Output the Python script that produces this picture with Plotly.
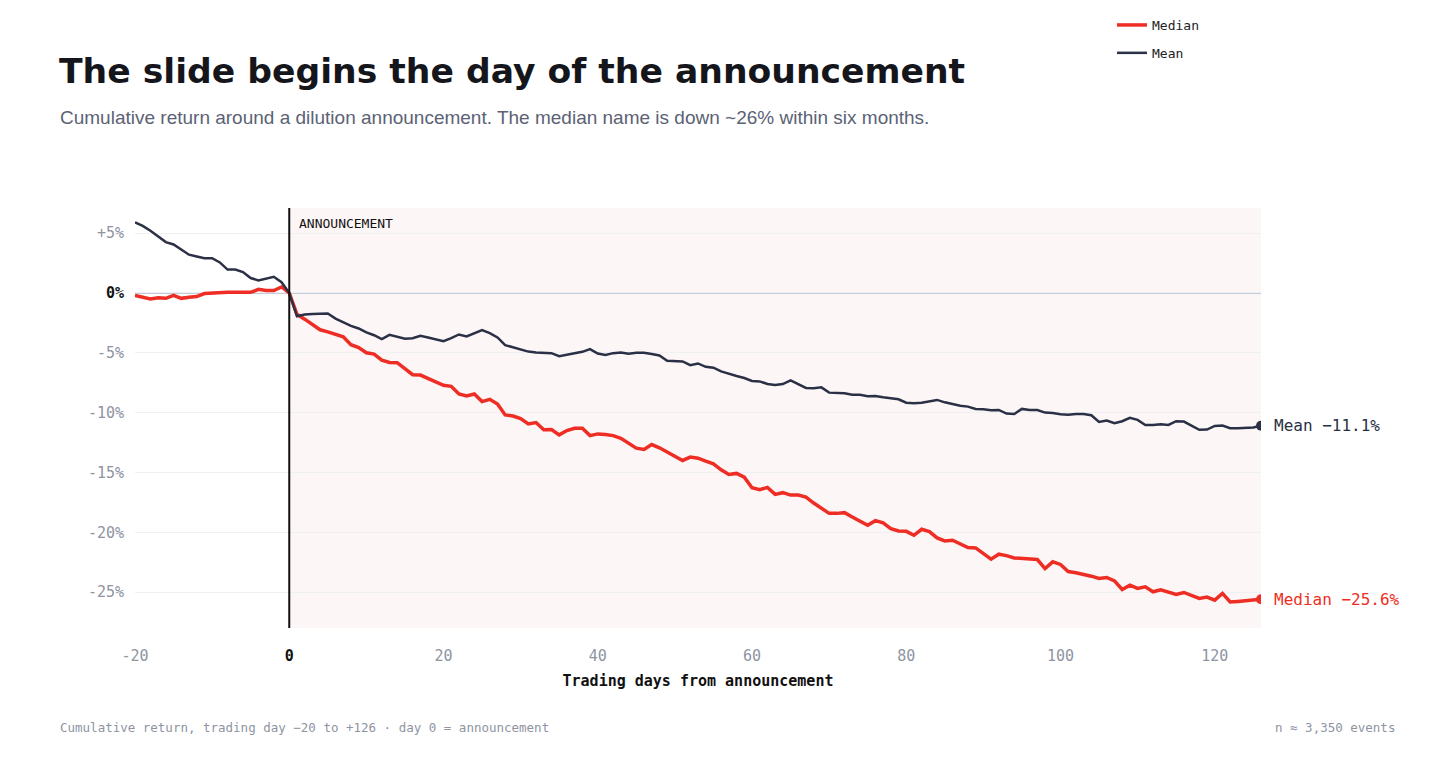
import plotly.graph_objects as go

days = list(range(-20, 127))

median = [
    -0.2, -0.35, -0.5, -0.4, -0.45, -0.2, -0.45, -0.35, -0.3, -0.05, 0.0, 0.05, 0.05, 0.05, 0.05, 0.05, 0.3, 0.2, 0.2, 0.5, 0.0,
    -1.78, -2.19, -2.6, -3.08, -3.25, -3.44, -3.67, -4.33, -4.56, -5.0, -5.11, -5.61, -5.81, -5.83, -6.36, -6.83, -6.86, -7.14, -7.39, -7.72, -7.8, -8.44, -8.6, -8.44, -9.08, -8.89, -9.28, -10.19, -10.28, -10.5, -10.94,
    -10.83, -11.44, -11.42, -11.86, -11.5, -11.31, -11.31, -11.92, -11.78, -11.83, -11.92, -12.14, -12.56, -12.97, -13.08, -12.67, -12.94, -13.31, -13.61, -14.0, -13.72, -13.81, -14.06, -14.28, -14.78, -15.17, -15.08, -15.39, -16.28, -16.44, -16.25,
    -16.83, -16.69, -16.89, -16.89, -17.06, -17.56, -18.03, -18.42, -18.42, -18.36, -18.72, -19.06, -19.42, -19.03, -19.22, -19.69, -19.89, -19.92, -20.25, -19.75, -19.94, -20.47, -20.72, -20.67, -20.94, -21.28, -21.31, -21.78, -22.25, -21.83, -21.95, -22.15,
    -22.19, -22.19, -22.28, -23.03, -22.47, -22.69, -23.28, -23.39, -23.5, -23.67, -23.86, -23.78, -24.06, -24.78, -24.42, -24.69, -24.56, -24.97, -24.8, -24.97, -25.19, -25.03, -25.25, -25.53, -25.42, -25.67, -25.11, -25.83, -25.78, -25.72, -25.64, -25.6,
]

mean = [
    5.9, 5.6, 5.2, 4.75, 4.25, 4.05, 3.6, 3.2, 3.05, 2.9, 2.9, 2.55, 1.95, 1.95, 1.75, 1.25, 1.05, 1.2, 1.35, 0.9, 0.0,
    -1.95, -1.8, -1.75, -1.72, -1.72, -2.14, -2.47, -2.75, -2.97, -3.3, -3.53, -3.86, -3.5, -3.64, -3.83, -3.78, -3.58, -3.72, -3.89, -4.03, -3.78, -3.47, -3.64, -3.39, -3.1, -3.36, -3.72, -4.36, -4.56, -4.72, -4.9,
    -4.97, -5.0, -5.03, -5.28, -5.14, -5.06, -4.92, -4.69, -5.06, -5.19, -5.03, -4.97, -5.08, -5.0, -5.0, -5.11, -5.22, -5.67, -5.67, -5.72, -6.03, -5.89, -6.17, -6.25, -6.56, -6.78, -6.94, -7.11, -7.36, -7.39, -7.61,
    -7.69, -7.61, -7.31, -7.61, -7.94, -7.97, -7.89, -8.33, -8.36, -8.39, -8.5, -8.5, -8.64, -8.61, -8.72, -8.81, -8.89, -9.17, -9.22, -9.17, -9.08, -8.94, -9.14, -9.31, -9.42, -9.5, -9.69, -9.72, -9.81, -9.78, -10.08, -10.11,
    -9.69, -9.78, -9.78, -10.0, -10.03, -10.14, -10.17, -10.11, -10.11, -10.22, -10.78, -10.67, -10.89, -10.72, -10.44, -10.61, -11.03, -11.03, -10.97, -11.03, -10.72, -10.75, -11.08, -11.44, -11.42, -11.11, -11.08, -11.31, -11.31, -11.28, -11.25, -11.1,
]

y_tickvals = [5, 0, -5, -10, -15, -20, -25]
y_ticktext = ["+5%", "<b><span style='color:#111111'>0%</span></b>", "-5%", "-10%", "-15%", "-20%", "-25%"]
x_tickvals = [-20, 0, 20, 40, 60, 80, 100, 120]
x_ticktext = ["-20", "<b><span style='color:#111111'>0</span></b>", "20", "40", "60", "80", "100", "120"]

RED = "#ee2d24"
DARK = "#2a3045"
MONO = "DejaVu Sans Mono"
SANS = "Liberation Sans, Arial, sans-serif"

fig = go.Figure()

fig.add_trace(go.Scatter(x=days, y=median, mode="lines", name="Median", legendgroup="med",
                         line=dict(color=RED, width=3.5)))
fig.add_trace(go.Scatter(x=days, y=mean, mode="lines", name="Mean", legendgroup="mean",
                         line=dict(color=DARK, width=2.5)))
# end markers
fig.add_trace(go.Scatter(x=[days[-1]], y=[mean[-1]], mode="markers", showlegend=False,
                         marker=dict(color=DARK, size=10, line=dict(width=0)), hoverinfo="skip"))
fig.add_trace(go.Scatter(x=[days[-1]], y=[median[-1]], mode="markers", showlegend=False,
                         marker=dict(color=RED, size=10, line=dict(width=0)), hoverinfo="skip"))

# shaded post-announcement region
fig.add_shape(type="rect", xref="x", yref="paper", x0=0, x1=126, y0=0, y1=1,
              fillcolor="#fdf6f6", line=dict(width=0), layer="below")
# zero line
fig.add_shape(type="line", xref="paper", yref="y", x0=0, x1=1, y0=0, y1=0,
              line=dict(color="#b3bacb", width=1.5), layer="below")
# announcement vertical line
fig.add_shape(type="line", xref="x", yref="paper", x0=0, x1=0, y0=0, y1=1,
              line=dict(color="#111111", width=2), layer="above")

fig.add_annotation(x=0, y=1, xref="x", yref="paper", text="ANNOUNCEMENT",
                   showarrow=False, xanchor="left", yanchor="top", xshift=8, yshift=-6,
                   font=dict(family=MONO, size=13, color="#111111"))

fig.add_annotation(x=days[-1], y=mean[-1], xref="x", yref="y",
                   text="Mean \u221211.1%", showarrow=False, xanchor="left", xshift=11,
                   font=dict(family=MONO, size=16, color=DARK))
fig.add_annotation(x=days[-1], y=median[-1], xref="x", yref="y",
                   text="Median \u221225.6%", showarrow=False, xanchor="left", xshift=11,
                   font=dict(family=MONO, size=16, color=RED))

# title & subtitle (pixel positions, converted below)
fig.add_annotation(x=57, y=70, xref="paper", yref="paper", text="<b>The slide begins the day of the announcement</b>",
                   showarrow=False, xanchor="left", yanchor="middle",
                   font=dict(family="DejaVu Sans", size=34.6, color="#15161c"))
fig.add_annotation(x=58, y=116, xref="paper", yref="paper",
                   text="Cumulative return around a dilution announcement. The median name is down ~26% within six months.",
                   showarrow=False, xanchor="left", yanchor="middle",
                   font=dict(family=SANS, size=19, color="#5b6275"))
# footer
fig.add_annotation(x=58, y=728, xref="paper", yref="paper",
                   text="Cumulative return, trading day \u221220 to +126 \u00b7 day 0 = announcement",
                   showarrow=False, xanchor="left", yanchor="middle",
                   font=dict(family=MONO, size=12.5, color="#8e94a2"))
fig.add_annotation(x=1397, y=728, xref="paper", yref="paper",
                   text="n \u2248 3,350 events",
                   showarrow=False, xanchor="right", yanchor="middle",
                   font=dict(family=MONO, size=12.5, color="#8e94a2"))

# convert pixel positions for header/footer annotations into paper coords
L, R, T, B = 135, 195, 207, 137
W, H = 1456, 765
pw, ph = W - L - R, H - T - B
for a in fig.layout.annotations:
    if a.xref == "paper" and a.yref == "paper" and a.x > 2:
        a.x = (a.x - L) / pw
        a.y = (H - B - a.y) / ph

fig.update_layout(
    width=W, height=H,
    margin=dict(l=L, r=R, t=T, b=B),
    paper_bgcolor="white", plot_bgcolor="white",
    showlegend=True,
    legend=dict(x=(1112 - L) / pw, y=(H - B - 10) / ph, xanchor="left", yanchor="top",
                font=dict(family=MONO, size=13, color="#222222"),
                bgcolor="rgba(0,0,0,0)", itemwidth=30, tracegroupgap=8,
                traceorder="grouped"),
    xaxis=dict(range=[-20, 126], tickvals=x_tickvals, ticktext=x_ticktext,
               showgrid=False, zeroline=False, showline=False, ticks="",
               ticklabelstandoff=17,
               tickfont=dict(family=MONO, size=15, color="#8e94a2"),
               title=dict(text="<b>Trading days from announcement</b>",
                          font=dict(family=MONO, size=15, color="#111111"), standoff=11)),
    yaxis=dict(range=[-28, 7.1], tickvals=y_tickvals, ticktext=y_ticktext,
               showgrid=True, gridcolor="#eef0f4", gridwidth=1, zeroline=False,
               showline=False, ticks="", ticklabelstandoff=10,
               tickfont=dict(family=MONO, size=15, color="#8e94a2")),
)

fig.write_html("out.html")
